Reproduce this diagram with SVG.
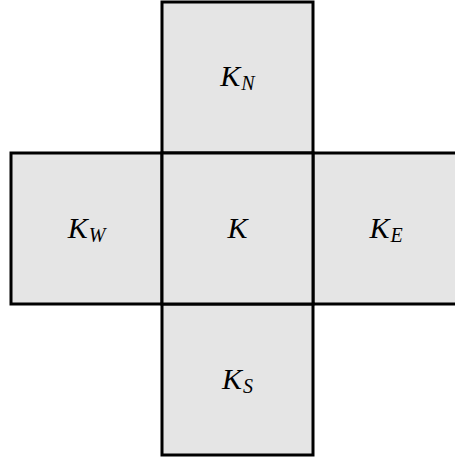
<svg xmlns="http://www.w3.org/2000/svg" width="455" height="460" viewBox="0 0 455 460">
<style>
.cell{fill:#e5e5e5;stroke:#000;stroke-width:3}
.lbl{font-family:"Liberation Serif","Times New Roman",serif;font-style:italic;font-size:30px;text-anchor:middle;fill:#000}
.sub{font-size:20px}
</style>
<rect width="455" height="460" fill="#fff"/>
<g id="KN"><rect class="cell" x="162" y="2" width="151" height="151"/><text class="lbl" x="237.5" y="86">K<tspan class="sub" dx="1" dy="4">N</tspan></text></g>
<g id="KW"><rect class="cell" x="11" y="153" width="151" height="151"/><text class="lbl" x="86.5" y="238">K<tspan class="sub" dx="1" dy="4">W</tspan></text></g>
<g id="KE"><rect class="cell" x="313" y="153" width="151" height="151"/><text class="lbl" x="386" y="238">K<tspan class="sub" dx="1" dy="4">E</tspan></text></g>
<g id="KS"><rect class="cell" x="162" y="304" width="151" height="151"/><text class="lbl" x="237.5" y="389">K<tspan class="sub" dx="1" dy="4">S</tspan></text></g>
<g id="K"><rect class="cell" x="162" y="153" width="151" height="151"/><text class="lbl" x="237.5" y="238">K</text></g>
<g id="connectors"/>
</svg>
